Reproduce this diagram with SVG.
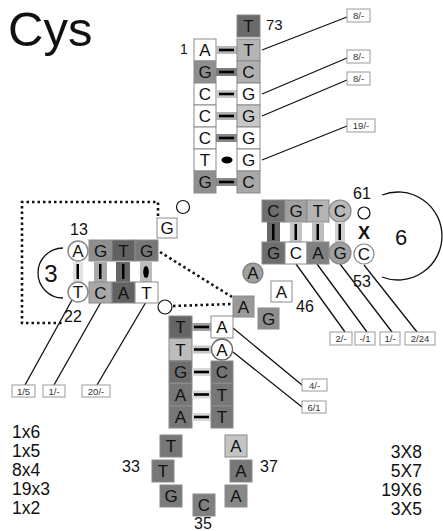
<svg xmlns="http://www.w3.org/2000/svg" width="443" height="531" viewBox="0 0 443 531">
<style>
text{font-family:"Liberation Sans",Arial,sans-serif;fill:#111}
.b{stroke:#8a8a8a;stroke-width:1}
.t{font-size:17px;text-anchor:middle}
.n{font-size:15px}
.k{font-size:17px}
.lb rect{fill:#fff;stroke:#999;stroke-width:1}
.lb text{font-size:9.5px;text-anchor:middle;fill:#333}
.ln{stroke:#111;stroke-width:1.3;fill:none}
.dt{stroke:#111;stroke-width:2.6;stroke-dasharray:2.5 3;fill:none}
.bar{stroke:#000;stroke-width:2.6}
.ring{fill:#fff;stroke:#111;stroke-width:1.2}
</style>
<rect width="443" height="531" fill="#fff"/>
<text x="8" y="46" style="font-size:49px">Cys</text>

<g id="connectors">
<path class="ln" d="M262,50 L347,17 M262,94 L347,58 M262,116 L347,80 M262,160 L347,126"/>
<path class="ln" d="M72,300 L25,385 M101,302 L54,385 M146,302 L97,385"/>
<path class="ln" d="M296,264 L345,332 M317,264 L367,332 M340,264 L392,332 M364,265 L417,332"/>
<path class="ln" d="M233,328 L302,385 M233,352 L302,407"/>
<path class="dt" d="M158,216 L158,202 L22,202 L22,323 L64,323"/>
<path class="dt" d="M160,252 L232,297"/>
<path class="dt" d="M173,306 L232,304"/>
<path class="ln" d="M63,248 A25,25 0 1 0 63,298"/>
<path class="ln" d="M382,195 A44,44 0 1 1 382,277"/>
</g>

<g id="acceptor">
<g id="n73"><rect class="b" x="237" y="15" width="23" height="22" fill="#6a6a6a"/><text class="t" x="248.5" y="32">T</text></g>
<g id="p1"><rect class="b" x="194" y="39" width="22" height="22" fill="#fff"/><text class="t" x="205" y="56">A</text><rect x="216" y="46" width="21" height="8" fill="#b8b8b8"/><line class="bar" x1="219" y1="50" x2="234" y2="50"/><rect class="b" x="237" y="39" width="23" height="22" fill="#b4b4b4"/><text class="t" x="248.5" y="56">T</text></g>
<g id="p2"><rect class="b" x="194" y="61" width="22" height="22" fill="#8e8e8e"/><text class="t" x="205" y="78">G</text><rect x="216" y="68" width="21" height="8" fill="#7a7a7a"/><line class="bar" x1="219" y1="72" x2="234" y2="72"/><rect class="b" x="237" y="61" width="23" height="22" fill="#b0b0b0"/><text class="t" x="248.5" y="78">C</text></g>
<g id="p3"><rect class="b" x="194" y="83" width="22" height="22" fill="#fff"/><text class="t" x="205" y="100">C</text><rect x="216" y="90" width="21" height="8" fill="#c8c8c8"/><line class="bar" x1="219" y1="94" x2="234" y2="94"/><rect class="b" x="237" y="83" width="23" height="22" fill="#fff"/><text class="t" x="248.5" y="100">G</text></g>
<g id="p4"><rect class="b" x="194" y="105" width="22" height="22" fill="#fff"/><text class="t" x="205" y="122">C</text><rect x="216" y="112" width="21" height="8" fill="#b0b0b0"/><line class="bar" x1="219" y1="116" x2="234" y2="116"/><rect class="b" x="237" y="105" width="23" height="22" fill="#c8c8c8"/><text class="t" x="248.5" y="122">G</text></g>
<g id="p5"><rect class="b" x="194" y="127" width="22" height="22" fill="#fff"/><text class="t" x="205" y="144">C</text><rect x="216" y="134" width="21" height="8" fill="#858585"/><line class="bar" x1="219" y1="138" x2="234" y2="138"/><rect class="b" x="237" y="127" width="23" height="22" fill="#fff"/><text class="t" x="248.5" y="144">G</text></g>
<g id="p6"><rect class="b" x="194" y="149" width="22" height="22" fill="#fff"/><text class="t" x="205" y="166">T</text><ellipse cx="227" cy="160" rx="5.5" ry="3.5" fill="#000"/><rect class="b" x="237" y="149" width="23" height="22" fill="#fff"/><text class="t" x="248.5" y="166">G</text></g>
<g id="p7"><rect class="b" x="194" y="171" width="22" height="22" fill="#8e8e8e"/><text class="t" x="205" y="188">G</text><rect x="216" y="178" width="21" height="8" fill="#8a8a8a"/><line class="bar" x1="219" y1="182" x2="234" y2="182"/><rect class="b" x="237" y="171" width="23" height="22" fill="#a8a8a8"/><text class="t" x="248.5" y="188">C</text></g>
<text x="180" y="54" style="font-size:14px">1</text>
<text x="266" y="30" style="font-size:15px">73</text>
</g>

<g id="lab-acc" class="lb">
<rect x="347" y="9" width="23" height="13"/><text x="358.5" y="19">8/-</text>
<rect x="347" y="50" width="23" height="13"/><text x="358.5" y="60">8/-</text>
<rect x="347" y="72" width="23" height="13"/><text x="358.5" y="82">8/-</text>
<rect x="347" y="119" width="28" height="13"/><text x="361" y="129">19/-</text>
</g>

<g id="joins">
<circle class="ring" cx="183" cy="207" r="6.5"/>
<circle class="ring" cx="165" cy="307" r="7"/>
</g>

<g id="darm">
<g id="d10"><circle cx="78" cy="251" r="10" fill="#fff" stroke="#888" stroke-width="1.5"/><text class="t" x="78" y="257">A</text></g>
<g id="d11"><rect class="b" x="89" y="240" width="23" height="21" fill="#8e8e8e"/><text class="t" x="100.5" y="257">G</text></g>
<g id="d12"><rect class="b" x="112" y="240" width="23" height="21" fill="#626262"/><text class="t" x="123.5" y="257">T</text></g>
<g id="d13"><rect class="b" x="135" y="240" width="23" height="21" fill="#777"/><text class="t" x="146.5" y="257">G</text></g>
<g id="dpairs">
<rect x="73" y="262" width="10" height="20" fill="#e2e2e2"/><rect x="76.5" y="264" width="2.5" height="15" fill="#000"/>
<rect x="94" y="262" width="13" height="20" fill="#a8a8a8"/><rect x="99" y="264" width="2.5" height="15" fill="#000"/>
<rect x="116" y="262" width="14" height="20" fill="#666"/><rect x="122" y="264" width="2.5" height="15" fill="#000"/>
<rect x="140" y="262" width="12" height="20" fill="#bdbdbd"/><ellipse cx="146" cy="272" rx="2.8" ry="6" fill="#000"/>
</g>
<g id="d25"><circle cx="78" cy="292" r="10" fill="#fff" stroke="#888" stroke-width="1.5"/><text class="t" x="78" y="298">T</text></g>
<g id="d24"><rect class="b" x="89" y="282" width="23" height="21" fill="#a8a8a8"/><text class="t" x="100.5" y="299">C</text></g>
<g id="d23"><rect class="b" x="112" y="282" width="23" height="21" fill="#626262"/><text class="t" x="123.5" y="299">A</text></g>
<g id="d22"><rect class="b" x="135" y="282" width="23" height="21" fill="#fff"/><text class="t" x="146.5" y="299">T</text></g>
<g id="d18"><rect class="b" x="157" y="218" width="20" height="20" fill="#fff"/><text class="t" x="167" y="234">G</text></g>
<text x="70" y="235" class="n" style="font-size:16px">13</text>
<text x="64" y="322" class="n" style="font-size:16px">22</text>
<text x="51" y="282" style="font-size:24px;text-anchor:middle">3</text>
</g>

<g id="lab-d" class="lb">
<rect x="12" y="385" width="23" height="12"/><text x="23.5" y="394.5">1/5</text>
<rect x="43" y="385" width="22" height="12"/><text x="54" y="394.5">1/-</text>
<rect x="82" y="385" width="28" height="12"/><text x="96" y="394.5">20/-</text>
</g>

<g id="tarm">
<g id="t49"><rect class="b" x="262" y="200" width="23" height="22" fill="#6e6e6e"/><text class="t" x="273.5" y="217">C</text></g>
<g id="t50"><rect class="b" x="285" y="200" width="22" height="22" fill="#a0a0a0"/><text class="t" x="296" y="217">G</text></g>
<g id="t51"><rect class="b" x="307" y="200" width="22" height="22" fill="#b4b4b4"/><text class="t" x="318" y="217">T</text></g>
<g id="t52"><circle cx="340" cy="211" r="11" fill="#b8b8b8" stroke="#888" stroke-width="1.2"/><text class="t" x="340" y="217">C</text></g>
<g id="tpairs">
<rect x="267" y="222" width="13" height="20" fill="#666"/><rect x="272" y="224" width="2.5" height="16" fill="#000"/>
<rect x="290" y="222" width="12" height="20" fill="#c4c4c4"/><rect x="294.5" y="224" width="2.5" height="16" fill="#000"/>
<rect x="312" y="222" width="12" height="20" fill="#bdbdbd"/><rect x="316.5" y="224" width="2.5" height="16" fill="#000"/>
<rect x="335" y="222" width="10" height="20" fill="#d0d0d0"/><rect x="338.5" y="224" width="2.5" height="16" fill="#000"/>
<text x="364" y="239" style="font-size:18px;font-weight:bold;text-anchor:middle">X</text>
</g>
<g id="t65"><rect class="b" x="262" y="242" width="23" height="22" fill="#6e6e6e"/><text class="t" x="273.5" y="259">G</text></g>
<g id="t64"><rect class="b" x="285" y="242" width="22" height="22" fill="#fff"/><text class="t" x="296" y="259">C</text></g>
<g id="t63"><rect class="b" x="307" y="242" width="22" height="22" fill="#808080"/><text class="t" x="318" y="259">A</text></g>
<g id="t62"><circle cx="340" cy="253" r="11" fill="#a0a0a0" stroke="#888" stroke-width="1.2"/><text class="t" x="340" y="259">G</text></g>
<g id="t61"><circle cx="364" cy="254" r="10" fill="#fff" stroke="#888" stroke-width="1.2"/><text class="t" x="364" y="260">C</text></g>
<circle class="ring" cx="364" cy="213" r="6"/>
<text x="353" y="199" class="n" style="font-size:16px">61</text>
<text x="353" y="287" class="n" style="font-size:16px">53</text>
<text x="401" y="245" style="font-size:22px;text-anchor:middle">6</text>
</g>

<g id="variable">
<g id="v48"><circle cx="253" cy="273" r="10" fill="#a0a0a0" stroke="#777" stroke-width="1.2"/><text class="t" x="253" y="279">A</text></g>
<g id="v47"><rect class="b" x="271" y="281" width="21" height="21" fill="#fff"/><text class="t" x="281.5" y="297.5">A</text></g>
<g id="v44"><rect class="b" x="233" y="296" width="21" height="21" fill="#999"/><text class="t" x="243.5" y="312.5">A</text></g>
<g id="v45"><rect class="b" x="258" y="308" width="21" height="21" fill="#8e8e8e"/><text class="t" x="268.5" y="324.5">G</text></g>
<text x="296" y="312" class="n" style="font-size:16px">46</text>
</g>

<g id="lab-t" class="lb">
<rect x="330" y="332" width="22" height="13"/><text x="341" y="342">2/-</text>
<rect x="355" y="332" width="20" height="13"/><text x="365" y="342">-/1</text>
<rect x="380" y="332" width="20" height="13"/><text x="390" y="342">1/-</text>
<rect x="405" y="332" width="30" height="13"/><text x="420" y="342">2/24</text>
</g>

<g id="anticodon-stem">
<g id="a1"><rect class="b" x="169" y="316" width="23" height="22" fill="#666"/><text class="t" x="180.5" y="333">T</text><rect x="192" y="323" width="19" height="8" fill="#a0a0a0"/><line class="bar" x1="194" y1="327" x2="209" y2="327"/><rect class="b" x="211" y="316" width="22" height="22" fill="#fff"/><text class="t" x="222" y="333">A</text></g>
<g id="a2"><rect class="b" x="169" y="338.5" width="23" height="22" fill="#bcbcbc"/><text class="t" x="180.5" y="355.5">T</text><rect x="192" y="345.5" width="19" height="8" fill="#c8c8c8"/><line class="bar" x1="194" y1="349.5" x2="209" y2="349.5"/><circle cx="222" cy="349.5" r="10.5" fill="#fff" stroke="#666" stroke-width="1.3"/><text class="t" x="222" y="355.5">A</text></g>
<g id="a3"><rect class="b" x="169" y="361" width="23" height="22" fill="#6e6e6e"/><text class="t" x="180.5" y="378">G</text><rect x="192" y="368" width="19" height="8" fill="#d8d8d8"/><line class="bar" x1="194" y1="372" x2="209" y2="372"/><rect class="b" x="211" y="361" width="22" height="22" fill="#747474"/><text class="t" x="222" y="378">C</text></g>
<g id="a4"><rect class="b" x="169" y="383.5" width="23" height="22" fill="#777"/><text class="t" x="180.5" y="400.5">A</text><rect x="192" y="390.5" width="19" height="8" fill="#d8d8d8"/><line class="bar" x1="194" y1="394.5" x2="209" y2="394.5"/><rect class="b" x="211" y="383.5" width="22" height="22" fill="#777"/><text class="t" x="222" y="400.5">T</text></g>
<g id="a5"><rect class="b" x="169" y="406" width="23" height="22" fill="#777"/><text class="t" x="180.5" y="423">A</text><rect x="192" y="413" width="19" height="8" fill="#d8d8d8"/><line class="bar" x1="194" y1="417" x2="209" y2="417"/><rect class="b" x="211" y="406" width="22" height="22" fill="#777"/><text class="t" x="222" y="423">T</text></g>
</g>

<g id="lab-a" class="lb">
<rect x="302" y="379" width="25" height="12"/><text x="314.5" y="388.5">4/-</text>
<rect x="302" y="401" width="24" height="12"/><text x="314" y="410.5">6/1</text>
</g>

<g id="anticodon-loop">
<g id="l32"><rect class="b" x="160" y="435" width="22" height="22" fill="#777"/><text class="t" x="171" y="452">T</text></g>
<g id="l33"><rect class="b" x="152" y="460" width="22" height="22" fill="#777"/><text class="t" x="163" y="477">T</text></g>
<g id="l34"><rect class="b" x="160" y="485" width="22" height="22" fill="#7a7a7a"/><text class="t" x="171" y="502">G</text></g>
<g id="l35"><rect class="b" x="193" y="494" width="22" height="22" fill="#808080"/><text class="t" x="204" y="511">C</text></g>
<g id="l36"><rect class="b" x="225" y="485" width="22" height="22" fill="#888"/><text class="t" x="236" y="502">A</text></g>
<g id="l37"><rect class="b" x="230" y="460" width="22" height="22" fill="#777"/><text class="t" x="241" y="477">A</text></g>
<g id="l38"><rect class="b" x="225" y="435" width="22" height="22" fill="#c4c4c4"/><text class="t" x="236" y="452">A</text></g>
<text x="122" y="472" class="n" style="font-size:16px">33</text>
<text x="260" y="472" class="n" style="font-size:16px">37</text>
<text x="194" y="529" class="n" style="font-size:16px">35</text>
</g>

<g id="counts-left" class="k" style="font-size:17.5px">
<text x="12" y="438">1x6</text>
<text x="12" y="457">1x5</text>
<text x="12" y="476">8x4</text>
<text x="12" y="495">19x3</text>
<text x="12" y="514">1x2</text>
</g>
<g id="counts-right" style="font-size:17.5px;text-anchor:end">
<text x="422" y="458">3X8</text>
<text x="422" y="477">5X7</text>
<text x="422" y="496">19X6</text>
<text x="422" y="515">3X5</text>
</g>
</svg>
